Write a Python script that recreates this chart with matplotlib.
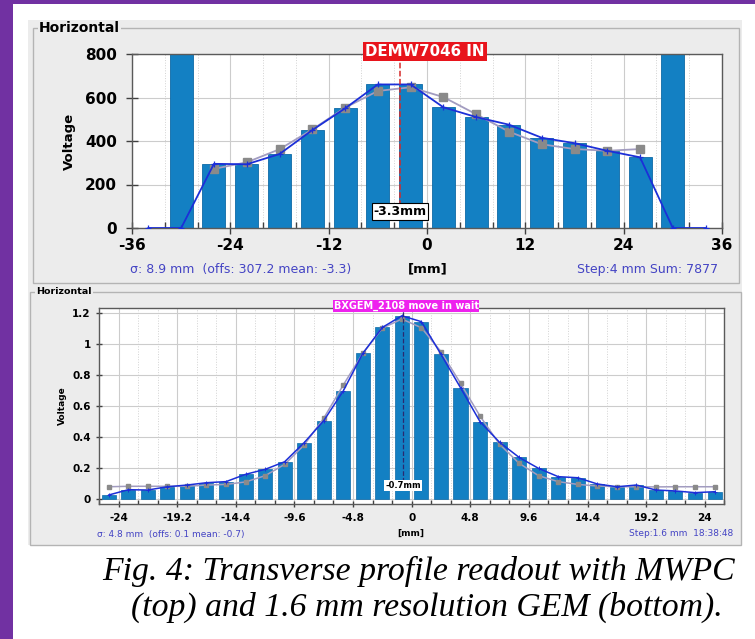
import numpy as np
from matplotlib import pyplot as plt
from matplotlib.patches import Rectangle
from matplotlib.ticker import MultipleLocator, FuncFormatter

plt.rcParams['axes.unicode_minus'] = False
plt.rcParams['font.family'] = ['DejaVu Sans']

# ---- data: MWPC (top) ----
top_pos = [-34, -30, -26, -22, -18, -14, -10, -6, -2, 2, 6, 10, 14, 18, 22, 26, 30, 34]
top_bar = [0, 800, 295, 293, 340, 450, 550, 660, 660, 555, 510, 475, 415, 390, 355, 325, 800, 0]
top_line = [0, 0, 295, 293, 340, 450, 550, 660, 660, 555, 510, 475, 415, 390, 355, 325, 0, 0]
top_fit_pos = [-26, -22, -18, -14, -10, -6, -2, 2, 6, 10, 14, 18, 22, 26]
top_fit = [272, 302, 362, 453, 553, 630, 647, 602, 523, 443, 385, 363, 355, 363]
top_mean = -3.3
top_xticks = [-36, -24, -12, 0, 12, 24, 36]
top_yticks = [0, 200, 400, 600, 800]

# ---- data: GEM (bottom) ----
bot_pos = [-24.8, -23.2, -21.6, -20.0, -18.4, -16.8, -15.2, -13.6, -12.0, -10.4, -8.8, -7.2,
           -5.6, -4.0, -2.4, -0.8, 0.8, 2.4, 4.0, 5.6, 7.2, 8.8, 10.4, 12.0, 13.6, 15.2,
           16.8, 18.4, 20.0, 21.6, 23.2, 24.8]
bot_bar = [0.026, 0.060, 0.058, 0.079, 0.090, 0.105, 0.112, 0.159, 0.191, 0.240, 0.363, 0.504,
           0.696, 0.938, 1.105, 1.180, 1.142, 0.932, 0.717, 0.498, 0.365, 0.268, 0.197, 0.144,
           0.137, 0.097, 0.079, 0.090, 0.058, 0.052, 0.041, 0.047]
bot_fit = [0.079, 0.082, 0.082, 0.082, 0.082, 0.090, 0.094, 0.110, 0.150, 0.223, 0.348, 0.520,
           0.734, 0.938, 1.100, 1.159, 1.103, 0.949, 0.745, 0.534, 0.352, 0.230, 0.150, 0.112,
           0.094, 0.084, 0.079, 0.079, 0.078, 0.079, 0.079, 0.079]
bot_mean = -0.7
bot_xticks = [-24, -19.2, -14.4, -9.6, -4.8, 0, 4.8, 9.6, 14.4, 19.2, 24]
bot_yticks = [0, 0.2, 0.4, 0.6, 0.8, 1.0, 1.2]

W, H = 755, 639
BAR = '#1380c3'
BAR_EDGE = '#0d6aa6'
LINE = '#1c2fd8'
FIT = '#a29cc0'
SQ = '#8a8a8a'
STAT = '#4444c4'
PANEL = '#ececec'
BORDER = '#b4b4b4'
PURPLE = '#7131a2'


def fx(x):
    return x / W


def fy(y):
    return 1 - y / H


fig = plt.figure(figsize=(W / 100, H / 100), dpi=100)
fig.patch.set_facecolor('white')

# background pieces of the screenshot
fig.patches.append(Rectangle((0, 0), fx(13), 1, transform=fig.transFigure,
                             facecolor=PURPLE, edgecolor='none', zorder=-3))
fig.patches.append(Rectangle((0, fy(4)), 1, 4 / H, transform=fig.transFigure,
                             facecolor=PURPLE, edgecolor='none', zorder=-3))
fig.patches.append(Rectangle((fx(28), fy(545)), fx(742 - 28), (545 - 20) / H,
                             transform=fig.transFigure, facecolor=PANEL,
                             edgecolor='none', zorder=-3))
# titled borders
fig.patches.append(Rectangle((fx(33), fy(283)), fx(739 - 33), (283 - 28) / H,
                             transform=fig.transFigure, facecolor='none',
                             edgecolor=BORDER, lw=1, zorder=-2))
fig.patches.append(Rectangle((fx(30), fy(545)), fx(741 - 30), (545 - 292) / H,
                             transform=fig.transFigure, facecolor='none',
                             edgecolor=BORDER, lw=1, zorder=-2))
fig.text(fx(39), fy(28), 'Horizontal', fontsize=10, fontweight='bold', va='center',
         ha='left', bbox=dict(facecolor=PANEL, edgecolor='none', pad=1), zorder=2)
fig.text(fx(36), fy(292), 'Horizontal', fontsize=6.8, fontweight='bold', va='center',
         ha='left', bbox=dict(facecolor=PANEL, edgecolor='none', pad=1), zorder=2)


def style_axes(ax, lsize, major_len, minor_len):
    ax.set_facecolor('white')
    for s in ax.spines.values():
        s.set_color('#5a5a5a')
        s.set_linewidth(1.0)
    ax.grid(which='major', color='#cccccc', lw=0.8, ls='-', zorder=0)
    ax.grid(which='minor', axis='x', color='#d2d2d2', lw=0.7, ls=':', zorder=0)
    ax.tick_params(which='major', direction='inout', length=major_len, width=1,
                   color='#404040', labelsize=lsize)
    ax.tick_params(which='minor', direction='in', length=minor_len, width=1,
                   color='#404040')
    ax.tick_params(axis='y', which='minor', length=0)
    for lab in ax.get_xticklabels() + ax.get_yticklabels():
        lab.set_fontweight('bold')
    ax.set_axisbelow(True)


# ---- top chart ----
ax1 = fig.add_axes([fx(132), fy(228), fx(722 - 132), (228 - 54) / H], zorder=3)
ax1.bar(top_pos, top_bar, width=2.8, color=BAR, edgecolor=BAR_EDGE, lw=0.6, zorder=2)
ax1.plot(top_fit_pos, top_fit, color=FIT, lw=1.3, marker='s', ms=5.5,
         mfc=SQ, mec=SQ, zorder=3)
ax1.plot(top_pos, top_line, color=LINE, lw=1.3, marker='+', ms=4, mew=0.9, zorder=4)
ax1.plot([top_mean, top_mean], [100, 800], color='#d42a2a', lw=1.1, ls='--', zorder=5)
ax1.text(top_mean, 76, '%.1fmm' % top_mean, fontsize=9, fontweight='bold', ha='center',
         va='center', zorder=6,
         bbox=dict(boxstyle='square,pad=0.15', facecolor='white', edgecolor='black', lw=0.8))
ax1.set_xlim(-36, 36)
ax1.set_ylim(0, 800)
ax1.set_xticks(top_xticks)
ax1.set_yticks(top_yticks)
ax1.xaxis.set_minor_locator(MultipleLocator(4))
ax1.set_ylabel('Voltage', fontsize=9.5, fontweight='bold', labelpad=6)
style_axes(ax1, 11, 8, 4)
ax1.tick_params(axis='x', pad=3)
ax1.tick_params(axis='y', pad=7)

fig.text(fx(425), fy(51.5), 'DEMW7046 IN', fontsize=10.8, fontweight='bold', color='white',
         ha='center', va='center', zorder=10,
         bbox=dict(boxstyle='square,pad=0.12', facecolor='#e8141c', edgecolor='none'))
fig.text(fx(130), fy(270), 'σ: 8.9 mm  (offs: 307.2 mean: -3.3)', fontsize=9,
         color=STAT, ha='left', va='center')
fig.text(fx(428), fy(269), '[mm]', fontsize=9.5, fontweight='bold', ha='center', va='center')
fig.text(fx(718), fy(270), 'Step:4 mm Sum: 7877', fontsize=9, color=STAT,
         ha='right', va='center')

# ---- bottom chart ----
ax2 = fig.add_axes([fx(99), fy(504.3), fx(724.3 - 99), (504.3 - 307.7) / H], zorder=3)
ax2.bar(bot_pos, bot_bar, width=1.15, color=BAR, edgecolor=BAR_EDGE, lw=0.5, zorder=2)
ax2.plot(bot_pos, bot_fit, color=FIT, lw=1.1, marker='s', ms=3.5,
         mfc=SQ, mec=SQ, zorder=3)
ax2.plot(bot_pos, bot_bar, color=LINE, lw=1.1, marker='+', ms=3, mew=0.7, zorder=4)
ax2.plot([bot_mean, bot_mean], [0.11, 1.232], color='#2a2a70', lw=0.9, ls='--', zorder=5)
ax2.text(bot_mean, 0.085, '%.1fmm' % bot_mean, fontsize=6, fontweight='bold', ha='center',
         va='center', zorder=6,
         bbox=dict(boxstyle='square,pad=0.12', facecolor='white', edgecolor='none'))
ax2.set_xlim(-25.6, 25.6)
ax2.set_ylim(-0.034, 1.232)
ax2.set_xticks(bot_xticks)
ax2.set_yticks(bot_yticks)
ax2.xaxis.set_major_formatter(FuncFormatter(lambda v, p: '%g' % round(v, 1)))
ax2.yaxis.set_major_formatter(FuncFormatter(lambda v, p: '%g' % round(v, 1)))
ax2.xaxis.set_minor_locator(MultipleLocator(1.6))
ax2.set_ylabel('Voltage', fontsize=6.5, fontweight='bold', labelpad=4)
style_axes(ax2, 7.5, 5, 3)
ax2.tick_params(axis='x', pad=4)

fig.text(fx(406), fy(306), 'BXGEM_2108 move in wait', fontsize=7, fontweight='bold',
         color='white', ha='center', va='center', zorder=10,
         bbox=dict(boxstyle='square,pad=0.1', facecolor='#ee22ee', edgecolor='none'))
fig.text(fx(97), fy(534), 'σ: 4.8 mm  (offs: 0.1 mean: -0.7)', fontsize=6.5,
         color=STAT, ha='left', va='center')
fig.text(fx(411), fy(533), '[mm]', fontsize=6.5, fontweight='bold', ha='center', va='center')
fig.text(fx(733), fy(534), 'Step:1.6 mm  18:38:48', fontsize=6.5, color=STAT,
         ha='right', va='center')

# ---- caption ----
fig.text(fx(418), fy(571), 'Fig. 4: Transverse profile readout with MWPC',
         family='Liberation Serif', style='italic', fontsize=24.3, ha='center', va='center')
fig.text(fx(427), fy(607), '(top) and 1.6 mm resolution GEM (bottom).',
         family='Liberation Serif', style='italic', fontsize=24.3, ha='center', va='center')

fig.savefig('out.png', dpi=100)
